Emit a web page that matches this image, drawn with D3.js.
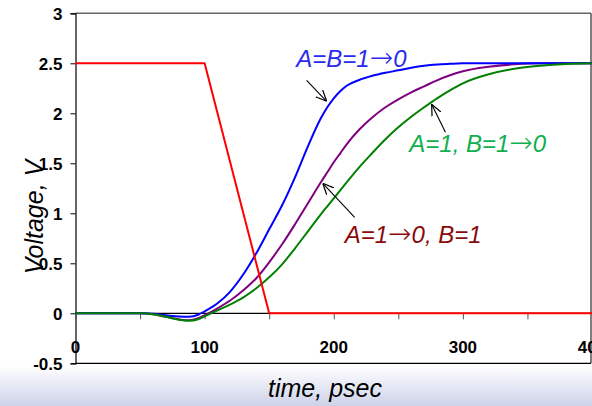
<!DOCTYPE html>
<html>
<head>
<meta charset="utf-8">
<script src="https://cdn.jsdelivr.net/npm/d3@7"></script>
<style>
  body { margin: 0; background: #fff; }
  svg { display: block; font-family: "Liberation Sans", Arial, sans-serif; }
  .tick-label { font-size: 17px; font-weight: bold; fill: #000; }
  .axis-title { font-size: 25px; font-style: italic; fill: #000; }
  .note { font-size: 24px; font-style: italic; }
  .arrow-glyph { font-family: "DejaVu Sans", sans-serif; font-style: normal; font-weight: 200; font-size: 28px; }
</style>
</head>
<body>
<div id="chart"></div>
<script>
// time samples (psec) and node voltages (V)
const timeIn = [0, 100, 150, 400];
const vIn = [2.5, 2.5, 0, 0];

const timeOut = [0, 50, 60, 70, 80, 88, 95, 100, 110, 120, 130, 140, 150, 160, 170, 180, 190, 195, 200, 205,
  210, 220, 230, 240, 250, 260, 270, 280, 290, 300, 320, 340, 360, 380, 400];
const vBoth = [0, 0, -0.005, -0.02, -0.033, -0.035, -0.015, 0.02, 0.1, 0.22, 0.39, 0.6, 0.84, 1.08, 1.36, 1.67, 1.95, 2.06, 2.15, 2.22,
  2.275, 2.335, 2.375, 2.405, 2.43, 2.455, 2.475, 2.488, 2.495, 2.5, 2.5, 2.5, 2.5, 2.5, 2.5];
const vA = [0, 0, -0.01, -0.035, -0.06, -0.07, -0.05, -0.02, 0.05, 0.13, 0.23, 0.35, 0.51, 0.69, 0.89, 1.1, 1.31, 1.41, 1.51, 1.6,
  1.69, 1.84, 1.96, 2.06, 2.14, 2.21, 2.27, 2.33, 2.38, 2.42, 2.465, 2.49, 2.5, 2.5, 2.5];
const vB = [0, 0, -0.01, -0.035, -0.065, -0.075, -0.06, -0.03, 0.03, 0.09, 0.16, 0.25, 0.36, 0.49, 0.65, 0.82, 0.99, 1.07, 1.15, 1.23,
  1.31, 1.465, 1.605, 1.74, 1.86, 1.965, 2.06, 2.15, 2.23, 2.3, 2.39, 2.445, 2.475, 2.493, 2.5];

const xTicks = [0, 100, 200, 300, 400];
const xMinorTicks = [0, 50, 100, 150, 200, 250, 300, 350, 400];
const yTicks = [-0.5, 0, 0.5, 1, 1.5, 2, 2.5, 3];

// labels with arrow (text anchor + arrow tail/head in data units)
const notes = [
  {pre: "A=B=1", post: "0", color: "#2b2bf0", t: 171, v: 2.46, from: [179, 2.33], to: [194.5, 2.12]},
  {pre: "A=1, B=1", post: "0", color: "#10b050", t: 258.5, v: 1.61, from: [286.5, 1.81], to: [275.8, 2.09]},
  {pre: "A=1", post: "0, B=1", color: "#8b0a0a", t: 208.5, v: 0.70, from: [216.2, 0.96], to: [191.5, 1.30]}
];

const W = 592, H = 406;
const svg = d3.select("#chart").append("svg")
  .attr("width", W)
  .attr("height", H);

const defs = svg.append("defs");
const grad = defs.append("linearGradient")
  .attr("id", "bg").attr("x1", 0).attr("y1", 0).attr("x2", 0).attr("y2", 1);
grad.append("stop").attr("offset", "0%").attr("stop-color", "#ffffff");
grad.append("stop").attr("offset", "100%").attr("stop-color", "#cdd2e9");

defs.append("marker")
  .attr("id", "head")
  .attr("viewBox", "0 0 10 10")
  .attr("refX", 10).attr("refY", 5)
  .attr("markerWidth", 11).attr("markerHeight", 11)
  .attr("markerUnits", "userSpaceOnUse")
  .attr("orient", "auto")
  .append("path")
  .attr("d", "M0,0.5 L10,5 L0,9.5")
  .attr("fill", "none")
  .attr("stroke", "#000")
  .attr("stroke-width", 1.1);

svg.append("rect")
  .attr("x", 0).attr("y", 366).attr("width", W).attr("height", H - 366)
  .attr("fill", "url(#bg)");

const x = d3.scaleLinear().domain([0, 400]).range([75.5, 592]);
const y = d3.scaleLinear().domain([-0.5, 3]).range([363.3, 13.3]);

// frame
svg.append("line")
  .attr("x1", x(0)).attr("x2", 591).attr("y1", y(3)).attr("y2", y(3))
  .attr("stroke", "#666").attr("stroke-width", 1.5);
svg.append("line")
  .attr("x1", 591).attr("x2", 591).attr("y1", y(3)).attr("y2", y(-0.5))
  .attr("stroke", "#555").attr("stroke-width", 1.5);
svg.append("line")
  .attr("x1", x(0)).attr("x2", 591).attr("y1", y(-0.5)).attr("y2", y(-0.5))
  .attr("stroke", "#000").attr("stroke-width", 1.2);

// y axis
const yAxis = svg.append("g")
  .attr("transform", "translate(" + x(0) + ",0)")
  .call(d3.axisLeft(y).tickValues(yTicks).tickSize(5).tickFormat(d => String(d)));
yAxis.select(".domain").attr("stroke", "#000").attr("stroke-width", 1.2);
yAxis.selectAll(".tick line").attr("stroke", "#000");
yAxis.selectAll(".tick text")
  .attr("class", "tick-label")
  .attr("font-family", null).attr("font-size", null)
  .attr("x", -13).attr("dy", "0.36em");

// x axis along v = 0
const xAxis = svg.append("g")
  .attr("transform", "translate(0," + y(0) + ")")
  .call(d3.axisBottom(x).tickValues(xMinorTicks).tickSize(6).tickFormat(""));
xAxis.select(".domain").attr("stroke", "#000").attr("stroke-width", 1.2).attr("d", "M" + x(0) + ",0H" + x(400));
xAxis.selectAll(".tick line").attr("stroke", "#555");

svg.append("g").selectAll("text")
  .data(xTicks)
  .enter().append("text")
  .attr("class", "tick-label")
  .attr("x", d => x(d))
  .attr("y", 352.5)
  .attr("text-anchor", "middle")
  .text(d => d);

// curves
const line = d3.line()
  .x(d => x(d[0]))
  .y(d => y(d[1]));

const series = [
  {t: timeOut, v: vA, color: "#800080"},
  {t: timeOut, v: vBoth, color: "#0000ff"},
  {t: timeOut, v: vB, color: "#008000"},
  {t: timeIn, v: vIn, color: "#ff0000", linear: true}
];
series.forEach(s => {
  const pts = s.t.map((t, i) => [t, s.v[i]]);
  svg.append("path")
    .datum(pts)
    .attr("fill", "none")
    .attr("stroke", s.color)
    .attr("stroke-width", 2)
    .attr("stroke-linejoin", "round")
    .attr("d", line.curve(s.linear ? d3.curveLinear : d3.curveMonotoneX)(pts));
});

// annotations
notes.forEach(n => {
  svg.append("line")
    .attr("x1", x(n.from[0])).attr("y1", y(n.from[1]))
    .attr("x2", x(n.to[0])).attr("y2", y(n.to[1]))
    .attr("stroke", "#000").attr("stroke-width", 1.1)
    .attr("marker-end", "url(#head)");
  const txt = svg.append("text")
    .attr("class", "note")
    .attr("x", x(n.t)).attr("y", y(n.v))
    .attr("fill", n.color);
  txt.append("tspan").text(n.pre);
  txt.append("tspan").attr("class", "arrow-glyph").text("\u2192");
  txt.append("tspan").text(n.post);
});

// axis titles
svg.append("text")
  .attr("class", "axis-title")
  .attr("x", 325).attr("y", 397)
  .attr("text-anchor", "middle")
  .text("time, psec");

svg.append("text")
  .attr("class", "axis-title")
  .attr("transform", "translate(43,217) rotate(-90)")
  .attr("text-anchor", "middle")
  .text("Voltage,  V");
</script>
</body>
</html>
